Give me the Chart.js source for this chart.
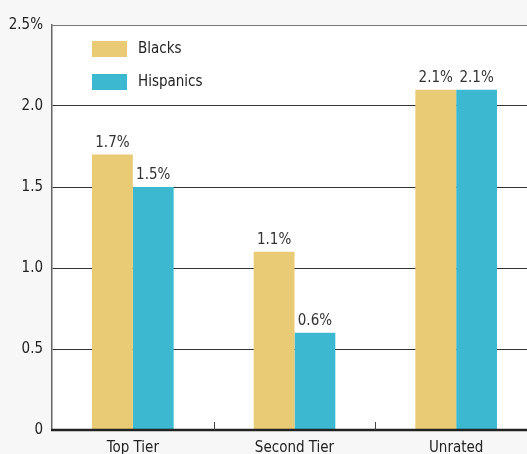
<!DOCTYPE html>
<html>
<head>
<meta charset="utf-8">
<script src="https://cdn.jsdelivr.net/npm/chart.js@4"></script>
<style>
  html, body { margin: 0; padding: 0; background: #f7f7f7; overflow: hidden; }
</style>
</head>
<body>
<canvas id="tier-chart" width="545" height="454"></canvas>
<script>
const categories = ["Top Tier", "Second Tier", "Unrated"];
const blacks = [1.7, 1.1, 2.1];
const hispanics = [1.5, 0.6, 2.1];
const yTicks = [0, 0.5, 1.0, 1.5, 2.0, 2.5];

const FONT = '"Liberation Sans Narrow", "DejaVu Sans Condensed", "Roboto Condensed", sans-serif';
const tierChart = document.getElementById("tier-chart");

new Chart(tierChart, {
  type: "bar",
  data: {
    labels: categories,
    datasets: [
      {
        label: "Blacks",
        data: blacks,
        backgroundColor: "#e9cb75",
        borderWidth: 0,
        barPercentage: 1,
        categoryPercentage: 0.505,
      },
      {
        label: "Hispanics",
        data: hispanics,
        backgroundColor: "#3db8d1",
        borderWidth: 0,
        barPercentage: 1,
        categoryPercentage: 0.505,
      },
    ],
  },
  options: {
    responsive: false,
    animation: false,
    layout: { padding: { top: 25, right: 8, left: 0, bottom: 0 } },
    scales: {
      x: {
        grid: { display: false, drawTicks: false },
        border: { display: false },
        ticks: {
          color: "#222",
          padding: 9,
          font: { family: FONT, size: 15 },
        },
        afterFit: (scale) => { scale.height = 24; },
      },
      y: {
        min: 0,
        max: 2.5,
        afterBuildTicks: (scale) => {
          scale.ticks = yTicks.map((v) => ({ value: v }));
        },
        grid: {
          drawTicks: false,
          color: (ctx) => (ctx.tick && ctx.tick.value === 2.5 ? "#777" : "#333"),
          lineWidth: (ctx) => (ctx.tick && ctx.tick.value === 0 ? 0 : 1),
        },
        border: { display: true, color: "#666", width: 1.5 },
        ticks: {
          color: "#222",
          padding: 9,
          font: { family: FONT, size: 15 },
          callback: (value) => {
            if (value === 2.5) return "2.5%";
            if (value === 0) return "0";
            return value.toFixed(1);
          },
        },
        afterFit: (scale) => { scale.width = 52; },
      },
    },
    plugins: {
      legend: { display: false },
      tooltip: { enabled: false },
    },
  },
  plugins: [
    {
      id: "background",
      beforeDraw(chart) {
        const { ctx, chartArea } = chart;
        ctx.save();
        ctx.fillStyle = "#f7f7f7";
        ctx.fillRect(0, 0, chart.width, chart.height);
        ctx.fillStyle = "#ffffff";
        ctx.fillRect(chartArea.left, chartArea.top, chartArea.right - chartArea.left, chartArea.bottom - chartArea.top);
        ctx.restore();
      },
    },
    {
      id: "extras",
      afterDatasetsDraw(chart) {
        const { ctx, chartArea, data } = chart;
        const xScale = chart.scales.x;
        ctx.save();

        // value labels
        ctx.font = "15px " + FONT;
        ctx.fillStyle = "#333";
        ctx.textAlign = "center";
        ctx.textBaseline = "bottom";
        data.datasets.forEach((ds, i) => {
          chart.getDatasetMeta(i).data.forEach((bar, j) => {
            ctx.fillText(ds.data[j].toFixed(1) + "%", bar.x, bar.y - 4);
          });
        });

        // baseline
        ctx.strokeStyle = "#222";
        ctx.lineWidth = 2.5;
        ctx.beginPath();
        ctx.moveTo(chartArea.left - 1, chartArea.bottom);
        ctx.lineTo(chartArea.right, chartArea.bottom);
        ctx.stroke();

        // small tick marks between categories
        ctx.lineWidth = 1;
        ctx.strokeStyle = "#444";
        for (let k = 0; k < categories.length - 1; k++) {
          const x = Math.round((xScale.getPixelForValue(k) + xScale.getPixelForValue(k + 1)) / 2) + 0.5;
          ctx.beginPath();
          ctx.moveTo(x, chartArea.bottom);
          ctx.lineTo(x, chartArea.bottom - 8);
          ctx.stroke();
        }

        // legend
        ctx.textAlign = "left";
        ctx.textBaseline = "middle";
        ctx.font = "15px " + FONT;
        data.datasets.forEach((ds, i) => {
          const y = 41 + i * 33;
          ctx.fillStyle = ds.backgroundColor;
          ctx.fillRect(92, y, 35, 16);
          ctx.fillStyle = "#222";
          ctx.fillText(ds.label, 138, y + 8);
        });

        ctx.restore();
      },
    },
  ],
});
</script>
</body>
</html>
